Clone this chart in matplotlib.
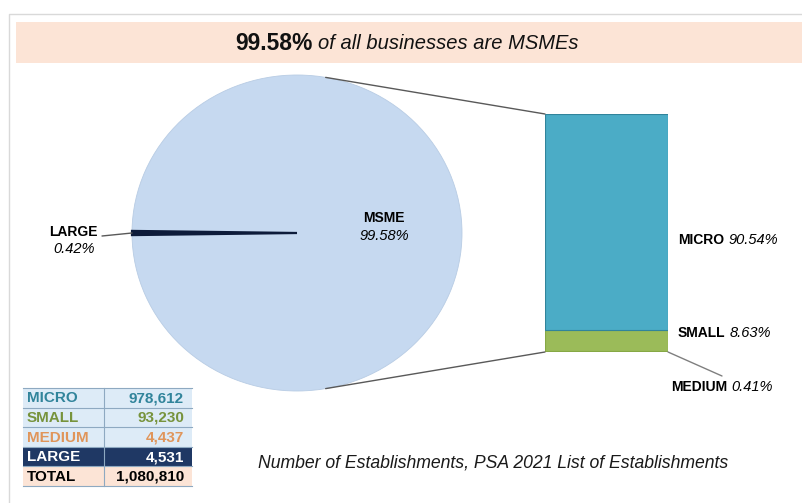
import matplotlib
matplotlib.use("Agg")
import matplotlib.pyplot as plt
from matplotlib.patches import Rectangle, ConnectionPatch
import numpy as np

plt.rcParams["font.family"] = ["Liberation Sans", "DejaVu Sans"]

# shares of all businesses (%)
pie_labels = ["LARGE", "MSME"]
pie_pct = [0.42, 99.58]

# breakdown of MSMEs (% of all businesses), bottom to top
bar_labels = ["MEDIUM", "SMALL", "MICRO"]
bar_pct = [0.41, 8.63, 90.54]

# establishment counts table
table_labels = ["MICRO", "SMALL", "MEDIUM", "LARGE", "TOTAL"]
table_counts = [978612, 93230, 4437, 4531, 1080810]

caption = "Number of Establishments, PSA 2021 List of Establishments"

W, H = 803, 503
fig = plt.figure(figsize=(W / 100, H / 100), dpi=100)
fig.patch.set_facecolor("white")


def px_axes(x0, y0, x1, y1):
    return fig.add_axes([x0 / W, (H - y1) / H, (x1 - x0) / W, (y1 - y0) / H])


def two_part(ax, x, y, bold, ital, size=10, isize=10.5, ha="left", gap=3):
    t1 = ax.text(x, y, bold, fontsize=size, fontweight="bold", ha=ha, va="center")
    ax.annotate(ital, xy=(1, 0.5), xycoords=t1, xytext=(gap, 0),
                textcoords="offset points", fontsize=isize, style="italic",
                ha="left", va="center")
    return t1


# background axes in pixel coordinates
bg = fig.add_axes([0, 0, 1, 1])
bg.set_xlim(0, W)
bg.set_ylim(H, 0)
bg.axis("off")

# outer frame
bg.plot([9, 9, W], [H, 14, 14], color="#D9D9D9", lw=1)

# title band
bg.add_patch(Rectangle((16, 22), W - 16, 41, facecolor="#FCE4D6", edgecolor="none"))

# pie
pax = px_axes(132, 75, 462, 391)
start = 180 - pie_pct[0] / 100 * 360 / 2
wedges, _ = pax.pie(pie_pct, colors=["#0D1B3A", "#C6D9F0"], startangle=start,
                    wedgeprops=dict(linewidth=0.6))
wedges[1].set_edgecolor("#B8CCE4")
wedges[1].set_zorder(1)
wedges[0].set_edgecolor("#0D1B3A")
wedges[0].set_linewidth(1.6)
wedges[0].set_zorder(2)
pax.set_aspect("auto")
pax.set_xlim(-1, 1)
pax.set_ylim(-1, 1)
pax.axis("off")

# stacked bar
bax = px_axes(545, 114, 668, 352)
bar_colors = ["#F79646", "#9BBB59", "#4BACC6"]
bar_edges = ["#E07B2C", "#86A845", "#31849B"]
bottom = 0
for v, c, e in zip(bar_pct, bar_colors, bar_edges):
    bax.bar(0, v, width=1, bottom=bottom, color=c, edgecolor=e, linewidth=0.8)
    bottom += v
bax.set_xlim(-0.5, 0.5)
bax.set_ylim(0, sum(bar_pct))
bax.axis("off")

# overlay axes for texts and leader lines
top = fig.add_axes([0, 0, 1, 1])
top.set_xlim(0, W)
top.set_ylim(H, 0)
top.axis("off")
top.patch.set_alpha(0)

t = top.text(235, 43, f"{pie_pct[1]:.2f}%", fontsize=16.5, fontweight="bold",
             ha="left", va="center", color="#111111")
top.annotate("of all businesses are MSMEs", xy=(1, 0.5), xycoords=t, xytext=(4, 0),
             textcoords="offset points", fontsize=14.5, style="italic",
             ha="left", va="center", color="#111111")

top.text(384, 218, pie_labels[1], fontsize=10, fontweight="bold", ha="center", va="center")
top.text(384, 236, f"{pie_pct[1]:.2f}%", fontsize=10.5, style="italic", ha="center", va="center")
top.text(73, 232, pie_labels[0], fontsize=10, fontweight="bold", ha="center", va="center")
top.text(74, 249, f"{pie_pct[0]:.2f}%", fontsize=10.5, style="italic", ha="center", va="center")
fig.add_artist(ConnectionPatch(xyA=(-1, 0), coordsA=pax.transData,
                               xyB=(102, 236), coordsB=top.transData,
                               color="#595959", lw=1))

ang = np.deg2rad(80)
for py, by in [(np.sin(ang), sum(bar_pct)), (-np.sin(ang), 0)]:
    fig.add_artist(ConnectionPatch(xyA=(np.cos(ang), py), coordsA=pax.transData,
                                   xyB=(-0.5, by), coordsB=bax.transData,
                                   color="#595959", lw=1))

two_part(top, 678, 240, bar_labels[2], f"{bar_pct[2]:.2f}%")
two_part(top, 678, 333, bar_labels[1], f"{bar_pct[1]:.2f}%")
two_part(top, 671, 387, bar_labels[0], f"{bar_pct[0]:.2f}%")
fig.add_artist(ConnectionPatch(xyA=(0.5, 0), coordsA=bax.transData,
                               xyB=(722, 376), coordsB=top.transData,
                               color="#7F7F7F", lw=1))

# table
tx0, tx1, tx2 = 23, 104, 192
ty0, rh = 388, 19.6
row_bg = ["#DDEBF7", "#DDEBF7", "#DDEBF7", "#1F3864", "#FCE4D6"]
row_fg = ["#31849B", "#77933C", "#E0955A", "white", "black"]
for i, (lab, cnt) in enumerate(zip(table_labels, table_counts)):
    y = ty0 + i * rh
    top.add_patch(Rectangle((tx0, y), tx2 - tx0, rh, facecolor=row_bg[i], edgecolor="none"))
    top.plot([tx0, tx2], [y + rh, y + rh], color="#8EA9C1", lw=0.8)
    top.text(tx0 + 4, y + rh / 2 + 0.5, lab, fontsize=11, fontweight="bold",
             color=row_fg[i], ha="left", va="center")
    top.text(tx2 - 8, y + rh / 2 + 0.5, f"{cnt:,}", fontsize=11, fontweight="bold",
             color=row_fg[i], ha="right", va="center")
top.plot([tx0, tx2], [ty0, ty0], color="#8EA9C1", lw=0.8)
top.plot([tx1, tx1], [ty0, ty0 + rh * len(table_labels)], color="#8EA9C1", lw=0.8)

# caption
top.text(493, 463, caption, fontsize=12.7, style="italic", ha="center", va="center",
         color="#1A1A1A")

fig.savefig("out.png", dpi=100)
